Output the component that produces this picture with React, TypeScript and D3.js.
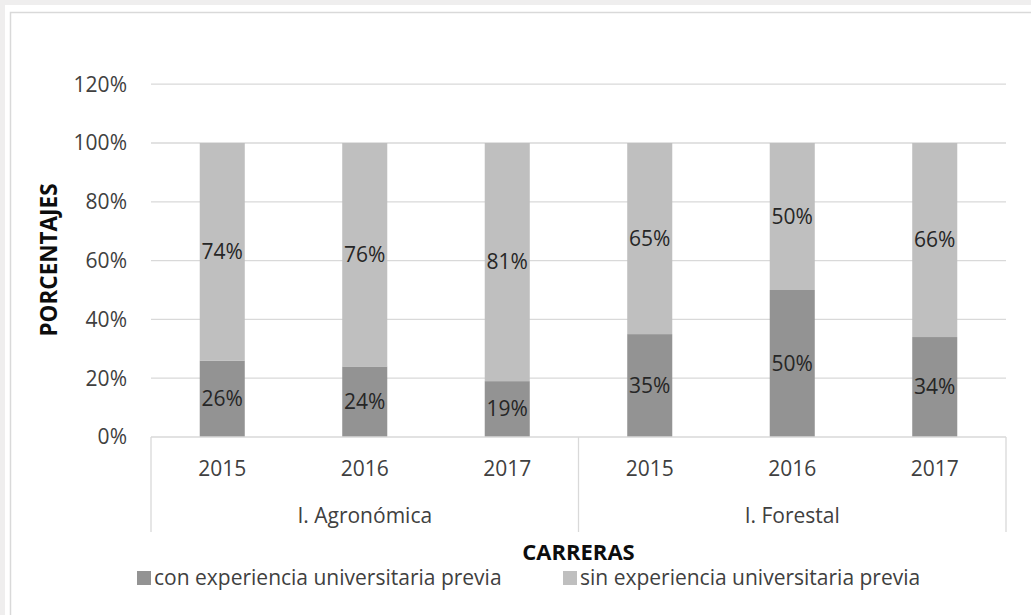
import React from "react";
import * as d3 from "d3";

const years = ["2015", "2016", "2017", "2015", "2016", "2017"];
const groups = ["I. Agronómica", "I. Forestal"];
const conExp = [26, 24, 19, 35, 50, 34];
const sinExp = [74, 76, 81, 65, 50, 66];
const yTicks = [0, 20, 40, 60, 80, 100, 120];
const seriesNames = ["con experiencia universitaria previa", "sin experiencia universitaria previa"];
const seriesColors = ["#939393", "#bfbfbf"];

const W = 1031;
const H = 615;
const FONT = "'Open Sans', 'DejaVu Sans', sans-serif";

export default function App() {
  const left = 151;
  const right = 1006;
  const x = d3.scaleBand<number>().domain(d3.range(years.length)).range([left, right]).padding(0);
  const y = d3.scaleLinear().domain([0, 120]).range([437, 84.2]);
  const barW = x.bandwidth() * 0.316;
  const groupX = d3.scaleBand<number>().domain(d3.range(groups.length)).range([left, right]);

  const stacked = d3.stack<number>().keys(["a", "b"]).value((i, k) => (k === "a" ? conExp[i] : sinExp[i]))(
    d3.range(years.length)
  );

  const axisY = y(0);
  const lineBottom = 532;

  return (
    <svg width={W} height={H} style={{ position: "absolute", left: 0, top: 0 }} fontFamily={FONT}>
      <rect x={0} y={0} width={W} height={H} fill="#efeeee" />
      <rect x={5} y={5} width={W} height={H} fill="#ffffff" />
      <rect x={10.5} y={12.5} width={W + 20} height={H + 20} fill="#ffffff" stroke="#d9d9d9" strokeWidth={1.5} />

      {yTicks.map((t) => (
        <g key={t}>
          {t > 0 && <line x1={left} x2={right} y1={y(t)} y2={y(t)} stroke="#d9d9d9" strokeWidth={1.3} />}
          <text x={127} y={y(t)} dy="0.35em" textAnchor="end" fontSize={21} fill="#404040">
            {t}%
          </text>
        </g>
      ))}

      {stacked.map((layer, li) =>
        layer.map((d, i) => (
          <rect
            key={`${li}-${i}`}
            x={(x(i) as number) + x.bandwidth() / 2 - barW / 2}
            width={barW}
            y={y(d[1])}
            height={y(d[0]) - y(d[1])}
            fill={seriesColors[li]}
          />
        ))
      )}

      {stacked.map((layer, li) =>
        layer.map((d, i) => (
          <text
            key={`l${li}-${i}`}
            x={(x(i) as number) + x.bandwidth() / 2}
            y={y((d[0] + d[1]) / 2)}
            dy="0.35em"
            textAnchor="middle"
            fontSize={21}
            fill="#262626"
          >
            {(li === 0 ? conExp[i] : sinExp[i]) + "%"}
          </text>
        ))
      )}

      <line x1={left} x2={right} y1={axisY} y2={axisY} stroke="#d9d9d9" strokeWidth={1.3} />
      {[left, (groupX(1) as number), right].map((vx, i) => (
        <line key={i} x1={vx} x2={vx} y1={axisY} y2={lineBottom} stroke="#d9d9d9" strokeWidth={1.3} />
      ))}

      {years.map((yr, i) => (
        <text
          key={`y${i}`}
          x={(x(i) as number) + x.bandwidth() / 2}
          y={469}
          dy="0.35em"
          textAnchor="middle"
          fontSize={21}
          fill="#404040"
        >
          {yr}
        </text>
      ))}
      {groups.map((g, i) => (
        <text
          key={g}
          x={(groupX(i) as number) + groupX.bandwidth() / 2}
          y={516}
          dy="0.35em"
          textAnchor="middle"
          fontSize={21}
          fill="#404040"
        >
          {g}
        </text>
      ))}

      <text x={(left + right) / 2} y={560} textAnchor="middle" fontSize={22} fontWeight="bold" fill="#0d0d0d">
        CARRERAS
      </text>
      <text
        transform={`translate(57, 260) rotate(-90)`}
        textAnchor="middle"
        fontSize={22.5}
        fontWeight="bold"
        fill="#0d0d0d"
      >
        PORCENTAJES
      </text>

      {seriesNames.map((s, i) => {
        const lx = i === 0 ? 137 : 563;
        return (
          <g key={s}>
            <rect x={lx} y={571} width={14} height={14} fill={seriesColors[i]} />
            <text x={lx + 17} y={578} dy="0.35em" fontSize={21} fill="#404040">
              {s}
            </text>
          </g>
        );
      })}
    </svg>
  );
}
